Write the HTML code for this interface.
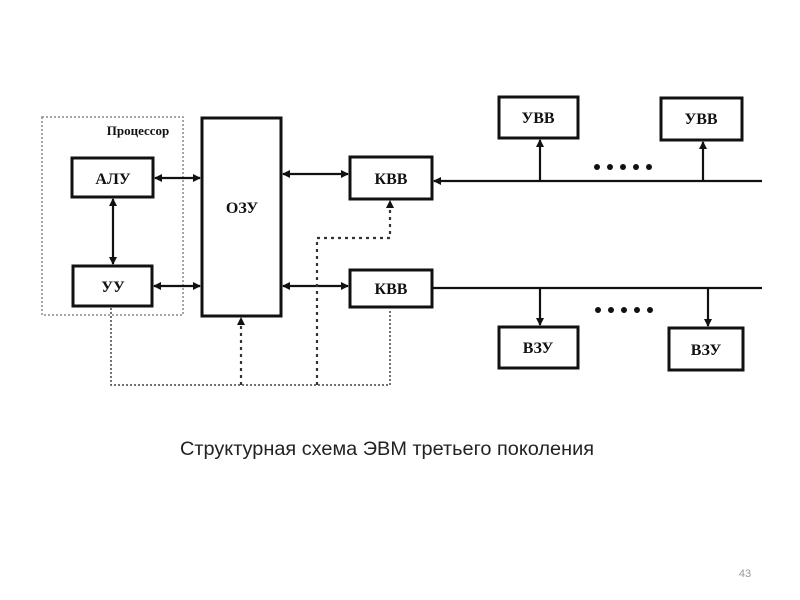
<!DOCTYPE html>
<html><head><meta charset="utf-8"><style>
body{margin:0;background:#fff;}
svg{display:block}
</style></head><body>
<svg width="800" height="600" xmlns="http://www.w3.org/2000/svg">
<defs>
<marker id="a" markerWidth="8" markerHeight="8" refX="7" refY="4" orient="auto-start-reverse" markerUnits="userSpaceOnUse">
<path d="M0,0 L8,4 L0,8 Z" fill="#111"/></marker>
</defs>
<g fill="none" stroke="#111">
<rect x="42" y="117" width="141" height="198" stroke="#888" stroke-width="1.5" stroke-dasharray="2,2"/>
<g stroke-width="3">
<rect x="72" y="158" width="81" height="39"/>
<rect x="73" y="266" width="79" height="40"/>
<rect x="202" y="118" width="79" height="198"/>
<rect x="350" y="157" width="82" height="42"/>
<rect x="350" y="270" width="82" height="37"/>
<rect x="499" y="97" width="79" height="41"/>
<rect x="661" y="98" width="81" height="42"/>
<rect x="499" y="327" width="79" height="41"/>
<rect x="669" y="328" width="74" height="42"/>
</g>
<g stroke-width="2.2">
<line x1="155" y1="178" x2="200" y2="178" marker-start="url(#a)" marker-end="url(#a)"/>
<line x1="154" y1="286" x2="200" y2="286" marker-start="url(#a)" marker-end="url(#a)"/>
<line x1="113" y1="199" x2="113" y2="264" marker-start="url(#a)" marker-end="url(#a)"/>
<line x1="283" y1="174" x2="348" y2="174" marker-start="url(#a)" marker-end="url(#a)"/>
<line x1="283" y1="286" x2="348" y2="286" marker-start="url(#a)" marker-end="url(#a)"/>
<line x1="762" y1="181" x2="434" y2="181" marker-end="url(#a)"/>
<line x1="540" y1="181" x2="540" y2="140" marker-end="url(#a)"/>
<line x1="703" y1="181" x2="703" y2="142" marker-end="url(#a)"/>
<line x1="432" y1="288" x2="762" y2="288"/>
<line x1="540" y1="288" x2="540" y2="325" marker-end="url(#a)"/>
<line x1="708" y1="288" x2="708" y2="326" marker-end="url(#a)"/>
</g>
<g stroke-width="1.5" stroke="#444" stroke-dasharray="2,2">
<polyline points="111,308 111,385 390,385 390,310"/>
</g>
<g stroke-width="2.2" stroke="#333" stroke-dasharray="3,4">
<line x1="241" y1="385" x2="241" y2="318" marker-end="url(#a)"/>
<polyline points="317,385 317,238 390,238 390,201" marker-end="url(#a)"/>
</g>
</g>
<g fill="#111">
<circle cx="597" cy="167" r="3"/><circle cx="610" cy="167" r="3"/><circle cx="623" cy="167" r="3"/><circle cx="636" cy="167" r="3"/><circle cx="649" cy="167" r="3"/>
<circle cx="598" cy="310" r="3"/><circle cx="611" cy="310" r="3"/><circle cx="624" cy="310" r="3"/><circle cx="637" cy="310" r="3"/><circle cx="650" cy="310" r="3"/>
</g>
<g font-family="Liberation Serif, serif" font-size="16" fill="#111" text-anchor="middle" font-weight="bold">
<text x="113" y="184">АЛУ</text>
<text x="113" y="292">УУ</text>
<text x="242" y="213">ОЗУ</text>
<text x="391" y="184">КВВ</text>
<text x="391" y="294">КВВ</text>
<text x="538" y="123">УВВ</text>
<text x="701" y="124">УВВ</text>
<text x="538" y="353">ВЗУ</text>
<text x="706" y="355">ВЗУ</text>
<text x="138" y="135" font-size="13">Процессор</text>
</g>
<text x="387" y="455" font-family="Liberation Sans, sans-serif" font-size="19.5" fill="#222" text-anchor="middle" textLength="414" lengthAdjust="spacingAndGlyphs">Структурная схема ЭВМ третьего поколения</text>
<text x="745" y="577" font-family="Liberation Sans, sans-serif" font-size="11" fill="#999" text-anchor="middle">43</text>
</svg>
</body></html>
